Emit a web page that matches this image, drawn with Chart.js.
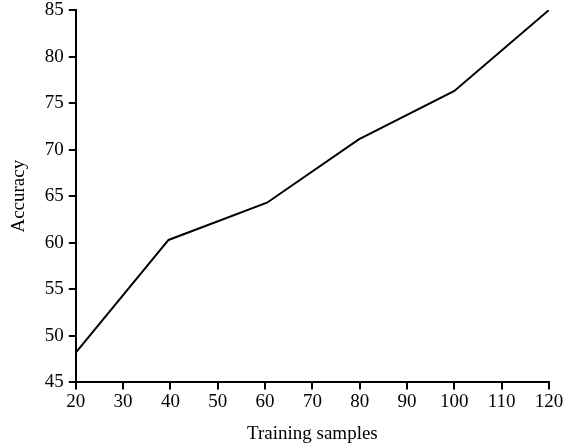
<!DOCTYPE html>
<html>
<head>
<meta charset="utf-8">
<script src="https://cdn.jsdelivr.net/npm/chart.js@4"></script>
<style>
html,body{margin:0;padding:0;background:#fff;}
#wrap{width:567px;height:447px;}
</style>
</head>
<body>
<div id="wrap"><canvas id="c"></canvas></div>
<script>
const trainingSamples = [20, 39.6, 60.4, 79.8, 100, 120];
const accuracy = [48.2, 60.3, 64.3, 71.1, 76.3, 85];
const xTicks = [20, 30, 40, 50, 60, 70, 80, 90, 100, 110, 120];
const yTicks = [45, 50, 55, 60, 65, 70, 75, 80, 85];
const xTitle = 'Training samples';
const yTitle = 'Accuracy';

const font = {family: '"Liberation Serif", "Times New Roman", serif', size: 19};

new Chart(document.getElementById('c'), {
  type: 'line',
  data: {
    datasets: [{
      data: trainingSamples.map((x, i) => ({x: x, y: accuracy[i]})),
      borderColor: '#000',
      borderWidth: 2,
      pointRadius: 0,
      tension: 0,
      fill: false
    }]
  },
  options: {
    responsive: true,
    maintainAspectRatio: false,
    animation: false,
    layout: {padding: {top: 10, right: 18, bottom: 0, left: 4}},
    plugins: {legend: {display: false}, tooltip: {enabled: false}},
    scales: {
      x: {
        type: 'linear',
        min: 20, max: 120,
        afterBuildTicks: s => { s.ticks = xTicks.map(v => ({value: v})); },
        border: {color: '#000', width: 2},
        grid: {drawOnChartArea: false, drawTicks: true, tickLength: 7, color: '#000', lineWidth: 2},
        ticks: {color: '#000', font: font, padding: 1, maxRotation: 0, autoSkip: false},
        title: {display: true, text: xTitle, color: '#000', font: font, padding: {top: 8, bottom: 2}}
      },
      y: {
        min: 45, max: 85,
        afterBuildTicks: s => { s.ticks = yTicks.map(v => ({value: v})); },
        afterFit: s => { s.paddingTop = 0; },
        border: {color: '#000', width: 2},
        grid: {drawOnChartArea: false, drawTicks: true, tickLength: 7, color: '#000', lineWidth: 2},
        ticks: {color: '#000', font: font, padding: 5, autoSkip: false},
        title: {display: true, text: yTitle, color: '#000', font: font, padding: {bottom: 9}}
      }
    }
  }
});
</script>
</body>
</html>
